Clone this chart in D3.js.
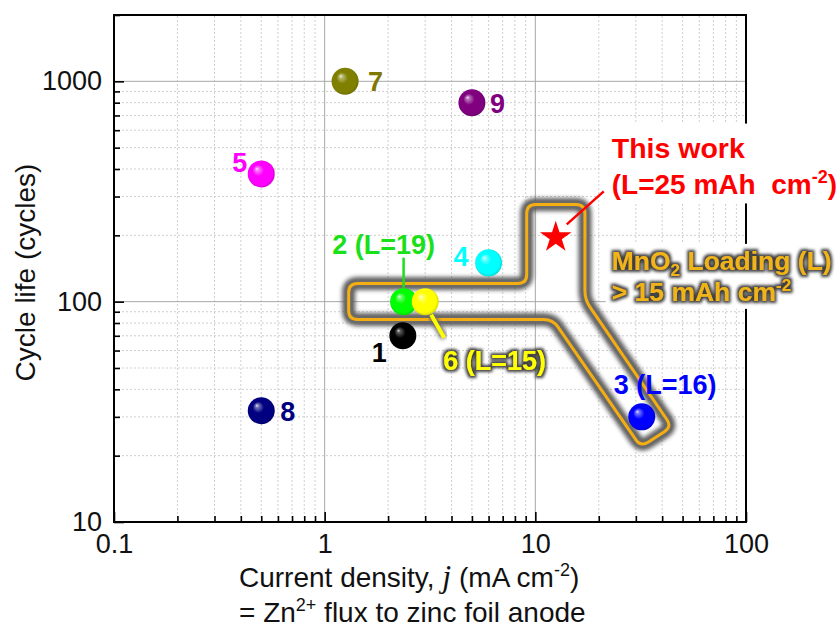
<!DOCTYPE html>
<html><head><meta charset="utf-8">
<script src="https://cdn.jsdelivr.net/npm/d3@7"></script>
<style>body{margin:0;background:#fff}svg{display:block}</style>
</head><body>
<svg id="chart" width="840" height="630"></svg>
<script>
// ---------- data ----------
const refIds = ["1","2","3","4","5","6","7","8","9"];
const refLabels = ["1","2 (L=19)","3 (L=16)","4","5","6 (L=15)","7","8","9"];
const currentDensity = [2.35, 2.37, 32, 6.0, 0.5, 3.0, 1.25, 0.5, 5.0];
const cycleLife = [70, 100, 30, 150, 380, 100, 1000, 32, 800];
const pointColors = ["#000000","#00ff00","#0000ff","#00ffff","#ff00ff","#ffff00","#808000","#000080","#800080"];
const labelColors = ["#000000","#19e019","#0000ff","#00ffff","#ff00ff","#ffff00","#807800","#000080","#800080"];
const thisWorkJ = [12.5];
const thisWorkCycles = [200];
const regionJ = [1.3, 9.1, 9.1, 17.2, 17.2, 44.5, 31.7, 12.1, 1.3];
const regionCycles = [121, 121, 276, 276, 102, 27, 21.9, 83, 83];
const xMajorTicks = [0.1, 1, 10, 100];
const xTickLabels = ["0.1", "1", "10", "100"];
const yMajorTicks = [10, 100, 1000];
const yTickLabels = ["10", "100", "1000"];

// ---------- layout ----------
const W = 840, H = 630;
const M = {left:114, right:94, top:15, bottom:108};
const FONT = "'Liberation Sans', Arial, sans-serif";
const svg = d3.select("#chart");
const x = d3.scaleLog().domain([0.1, 100]).range([M.left, W - M.right]);
const y = d3.scaleLog().domain([10, 2000]).range([H - M.bottom, M.top]);
const [x0, x1] = x.range(), [y0, y1] = y.range();

const minorOf = (dom) => {
  const out = [];
  for (let d = dom[0]; d < dom[1]; d *= 10)
    for (let k = 2; k <= 9; k++) { const v = +(d*k).toPrecision(6); if (v <= dom[1]) out.push(v); }
  return out;
};
const xMinor = minorOf([0.1, 100]);
const yMinor = minorOf([10, 2000]);

const defs = svg.append("defs");
pointColors.forEach((c, i) => {
  const g = defs.append("radialGradient").attr("id", "ball" + i)
    .attr("cx", "50%").attr("cy", "50%").attr("r", "55%").attr("fx", "33%").attr("fy", "30%");
  const base = d3.color(c);
  const hl = d3.interpolateRgb(c, "#ffffff")(c === "#000000" ? 0.85 : 0.9);
  const mid = d3.interpolateRgb(c, "#ffffff")(c === "#000000" ? 0.35 : 0.45);
  g.append("stop").attr("offset", "0%").attr("stop-color", hl);
  g.append("stop").attr("offset", "12%").attr("stop-color", mid);
  g.append("stop").attr("offset", "38%").attr("stop-color", base.formatHex());
  g.append("stop").attr("offset", "80%").attr("stop-color", base.formatHex());
  g.append("stop").attr("offset", "100%").attr("stop-color", base.darker(0.7).formatHex());
});
const glow = defs.append("filter").attr("id", "pathGlow").attr("x", "-20%").attr("y", "-20%").attr("width", "140%").attr("height", "140%");
glow.append("feGaussianBlur").attr("stdDeviation", 2.2);
const tg = defs.append("filter").attr("id", "textGlow").attr("x", "-10%").attr("y", "-30%").attr("width", "120%").attr("height", "160%");
tg.append("feMorphology").attr("in", "SourceAlpha").attr("operator", "dilate").attr("radius", 2.4).attr("result", "d");
tg.append("feGaussianBlur").attr("in", "d").attr("stdDeviation", 1.4).attr("result", "b");
tg.append("feFlood").attr("flood-color", "#3f3f3f");
tg.append("feComposite").attr("in2", "b").attr("operator", "in").attr("result", "g");
const tm = tg.append("feMerge");
tm.append("feMergeNode").attr("in", "g");
tm.append("feMergeNode").attr("in", "SourceGraphic");

// ---------- grid ----------
const grid = svg.append("g");
grid.selectAll(".xminor").data(xMinor).join("line")
  .attr("x1", d => x(d)).attr("x2", d => x(d)).attr("y1", y0).attr("y2", y1)
  .attr("stroke", "#cfcfcf").attr("stroke-width", 1).attr("stroke-dasharray", "2,2");
grid.selectAll(".yminor").data(yMinor).join("line")
  .attr("y1", d => y(d)).attr("y2", d => y(d)).attr("x1", x0).attr("x2", x1)
  .attr("stroke", "#cfcfcf").attr("stroke-width", 1).attr("stroke-dasharray", "2,2");
grid.selectAll(".xmaj").data(xMajorTicks.slice(1, -1)).join("line")
  .attr("x1", d => x(d)).attr("x2", d => x(d)).attr("y1", y0).attr("y2", y1)
  .attr("stroke", "#a8a8a8").attr("stroke-width", 1);
grid.selectAll(".ymaj").data(yMajorTicks.slice(1)).join("line")
  .attr("y1", d => y(d)).attr("y2", d => y(d)).attr("x1", x0).attr("x2", x1)
  .attr("stroke", "#a8a8a8").attr("stroke-width", 1);

// ---------- axes ----------
const xAxisMaj = d3.axisBottom(x).tickValues(xMajorTicks).tickFormat((d, i) => xTickLabels[i]).tickSize(-10).tickPadding(12);
const xAxisMin = d3.axisBottom(x).tickValues(xMinor).tickFormat("").tickSize(-6);
const yAxisMaj = d3.axisLeft(y).tickValues(yMajorTicks).tickFormat((d, i) => yTickLabels[i]).tickSize(-10).tickPadding(12);
const yAxisMin = d3.axisLeft(y).tickValues(yMinor).tickFormat("").tickSize(-6);
function styleAxis(g) {
  g.select(".domain").remove();
  g.selectAll("line").attr("stroke", "#000").attr("stroke-width", 1.6);
  g.selectAll("text").attr("font-family", FONT).attr("font-size", 27).attr("fill", "#111");
}
svg.append("g").attr("transform", `translate(0,${y0})`).call(xAxisMin).call(styleAxis);
svg.append("g").attr("transform", `translate(0,${y0})`).call(xAxisMaj).call(styleAxis);
svg.append("g").attr("transform", `translate(${x0},0)`).call(yAxisMin).call(styleAxis);
svg.append("g").attr("transform", `translate(${x0},0)`).call(yAxisMaj).call(styleAxis);

svg.append("rect").attr("x", x0).attr("y", y1).attr("width", x1 - x0).attr("height", y0 - y1)
  .attr("fill", "none").attr("stroke", "#000").attr("stroke-width", 2);

// axis titles
svg.append("text").attr("transform", `translate(35,${(y0 + y1) / 2 + 4}) rotate(-90)`)
  .attr("text-anchor", "middle").attr("font-family", FONT).attr("font-size", 28).attr("fill", "#111")
  .text("Cycle life (cycles)");
const xt = svg.append("text").attr("x", 239).attr("y", 587).attr("font-family", FONT).attr("font-size", 28).attr("fill", "#111");
xt.append("tspan").text("Current density, ");
xt.append("tspan").attr("font-family", "'Liberation Serif','Times New Roman',serif").attr("font-style", "italic").attr("font-size", 32).text("j");
xt.append("tspan").text(" (mA cm");
xt.append("tspan").attr("font-size", 18).attr("dy", -11).text("-2");
xt.append("tspan").attr("dy", 11).text(")");
const xt2 = svg.append("text").attr("x", 239).attr("y", 622).attr("font-family", FONT).attr("font-size", 28).attr("fill", "#111");
xt2.append("tspan").text("= Zn");
xt2.append("tspan").attr("font-size", 18).attr("dy", -11).text("2+");
xt2.append("tspan").attr("dy", 11).text(" flux to zinc foil anode");

// ---------- highlighted region ----------
function roundedPolygon(pts, r) {
  const n = pts.length; let d = "";
  for (let i = 0; i < n; i++) {
    const p0 = pts[(i - 1 + n) % n], p1 = pts[i], p2 = pts[(i + 1) % n];
    const u = (a, b) => { const dx = a[0] - b[0], dy = a[1] - b[1], L = Math.hypot(dx, dy); return [dx / L, dy / L]; };
    const v1 = u(p0, p1), v2 = u(p2, p1);
    const a = [p1[0] + v1[0] * r, p1[1] + v1[1] * r], b = [p1[0] + v2[0] * r, p1[1] + v2[1] * r];
    d += (i === 0 ? "M" : "L") + a[0] + "," + a[1] + "Q" + p1[0] + "," + p1[1] + " " + b[0] + "," + b[1];
  }
  return d + "Z";
}
const regionPts = regionJ.map((j, i) => [x(j), y(regionCycles[i])]);
const regionD = roundedPolygon(regionPts, 9);
svg.append("path").attr("d", regionD).attr("fill", "none").attr("stroke", "#555").attr("stroke-width", 13)
  .attr("stroke-linejoin", "round").attr("filter", "url(#pathGlow)").attr("opacity", 0.95);
svg.append("path").attr("d", regionD).attr("fill", "none").attr("stroke", "#6a6a6a").attr("stroke-width", 7)
  .attr("stroke-linejoin", "round");
svg.append("path").attr("d", regionD).attr("fill", "none").attr("stroke", "#f5ae12").attr("stroke-width", 3)
  .attr("stroke-linejoin", "round");

// ---------- annotation boxes ----------
const sx = x(thisWorkJ[0]), sy = y(thisWorkCycles[0]);
const noteWork = svg.append("g");
const noteLoad = svg.append("g");
const bgWork = noteWork.append("rect").attr("fill", "#fff");
const bgLoad = noteLoad.append("rect").attr("fill", "#fff");
noteWork.append("text").attr("x", sx + 56).attr("y", sy - 88).attr("dy", "0.36em")
  .attr("font-family", FONT).attr("font-weight", "bold").attr("font-size", 28.5).attr("fill", "#ff0000").text("This work");
const tw2 = noteWork.append("text").attr("x", sx + 56).attr("y", sy - 51).attr("dy", "0.36em")
  .attr("font-family", FONT).attr("font-weight", "bold").attr("font-size", 28).attr("fill", "#ff0000");
tw2.append("tspan").text("(L=25 mAh\u00a0 cm");
tw2.append("tspan").attr("font-size", 18).attr("dy", -11).text("-2");
tw2.append("tspan").attr("dy", 11).text(")");
const tl1 = noteLoad.append("text").attr("x", sx + 56).attr("y", sy + 25).attr("dy", "0.36em")
  .attr("font-family", FONT).attr("font-weight", "bold").attr("font-size", 26.5).attr("fill", "#f0b416")
  .attr("filter", "url(#textGlow)");
tl1.append("tspan").text("MnO");
tl1.append("tspan").attr("font-size", 17).attr("dy", 6).text("2");
tl1.append("tspan").attr("dy", -6).text(" Loading (L)");
const tl2 = noteLoad.append("text").attr("x", sx + 56).attr("y", sy + 56).attr("dy", "0.36em")
  .attr("font-family", FONT).attr("font-weight", "bold").attr("font-size", 26.5).attr("fill", "#f0b416")
  .attr("filter", "url(#textGlow)");
tl2.append("tspan").text("> 15 mAh cm");
tl2.append("tspan").attr("font-size", 17).attr("dy", -10).text("-2");
function fitBg(rect, g, padL, padT, padB) {
  const b = g.node().getBBox();
  rect.attr("x", b.x - padL).attr("y", b.y - padT).attr("width", W - b.x + padL).attr("height", b.height + padT + padB);
}
fitBg(bgWork, noteWork, 10, 8, 3);
fitBg(bgLoad, noteLoad, 6, 2, 2);

// ---------- points ----------
const pts = refIds.map((id, i) => ({ id, label: refLabels[i], j: currentDensity[i], c: cycleLife[i], i }));
const labelLayout = {
  "1": { dx: -16, dy: 16, anchor: "end" },
  "2": { dx: -20, dy: -57, anchor: "middle", leader: [[0, -44], [0, -14]] },
  "3": { dx: -28, dy: -33, anchor: "start" },
  "4": { dx: -20, dy: -7, anchor: "end" },
  "5": { dx: -14, dy: -12, anchor: "end" },
  "6": { dx: 18, dy: 59, anchor: "start", leader: [[6, 13], [19, 36]], glow: true },
  "7": { dx: 23, dy: 0, anchor: "start" },
  "8": { dx: 19, dy: 1, anchor: "start" },
  "9": { dx: 18, dy: 1, anchor: "start" }
};
pts.forEach(p => {
  const L = labelLayout[p.id]; if (!L.leader) return;
  const px = x(p.j), py = y(p.c);
  if (L.glow) {
    svg.append("line").attr("x1", px + L.leader[0][0]).attr("y1", py + L.leader[0][1])
      .attr("x2", px + L.leader[1][0]).attr("y2", py + L.leader[1][1])
      .attr("stroke", "#666").attr("stroke-width", 7).attr("filter", "url(#pathGlow)");
  }
  svg.append("line").attr("x1", px + L.leader[0][0]).attr("y1", py + L.leader[0][1])
    .attr("x2", px + L.leader[1][0]).attr("y2", py + L.leader[1][1])
    .attr("stroke", labelColors[p.i]).attr("stroke-width", L.glow ? 4 : 2.5);
});
svg.append("g").selectAll("circle").data(pts).join("circle")
  .attr("cx", d => x(d.j)).attr("cy", d => y(d.c)).attr("r", 13.5)
  .attr("fill", d => `url(#ball${d.i})`);
svg.append("g").selectAll("text").data(pts).join("text")
  .attr("x", d => x(d.j) + labelLayout[d.id].dx).attr("y", d => y(d.c) + labelLayout[d.id].dy)
  .attr("dy", "0.36em").attr("text-anchor", d => labelLayout[d.id].anchor)
  .attr("font-family", FONT).attr("font-weight", "bold").attr("font-size", 27)
  .attr("fill", d => labelColors[d.i])
  .attr("filter", d => labelLayout[d.id].glow ? "url(#textGlow)" : null)
  .text(d => d.label);

// star + leader
svg.append("line").attr("x1", sx + 11).attr("y1", sy - 11).attr("x2", sx + 48).attr("y2", sy - 44)
  .attr("stroke", "#ff0000").attr("stroke-width", 2.5);
svg.append("path").attr("d", d3.symbol(d3.symbolStar, 310)())
  .attr("transform", `translate(${sx},${sy + 2})`).attr("fill", "#ff0000");
</script>
</body></html>
